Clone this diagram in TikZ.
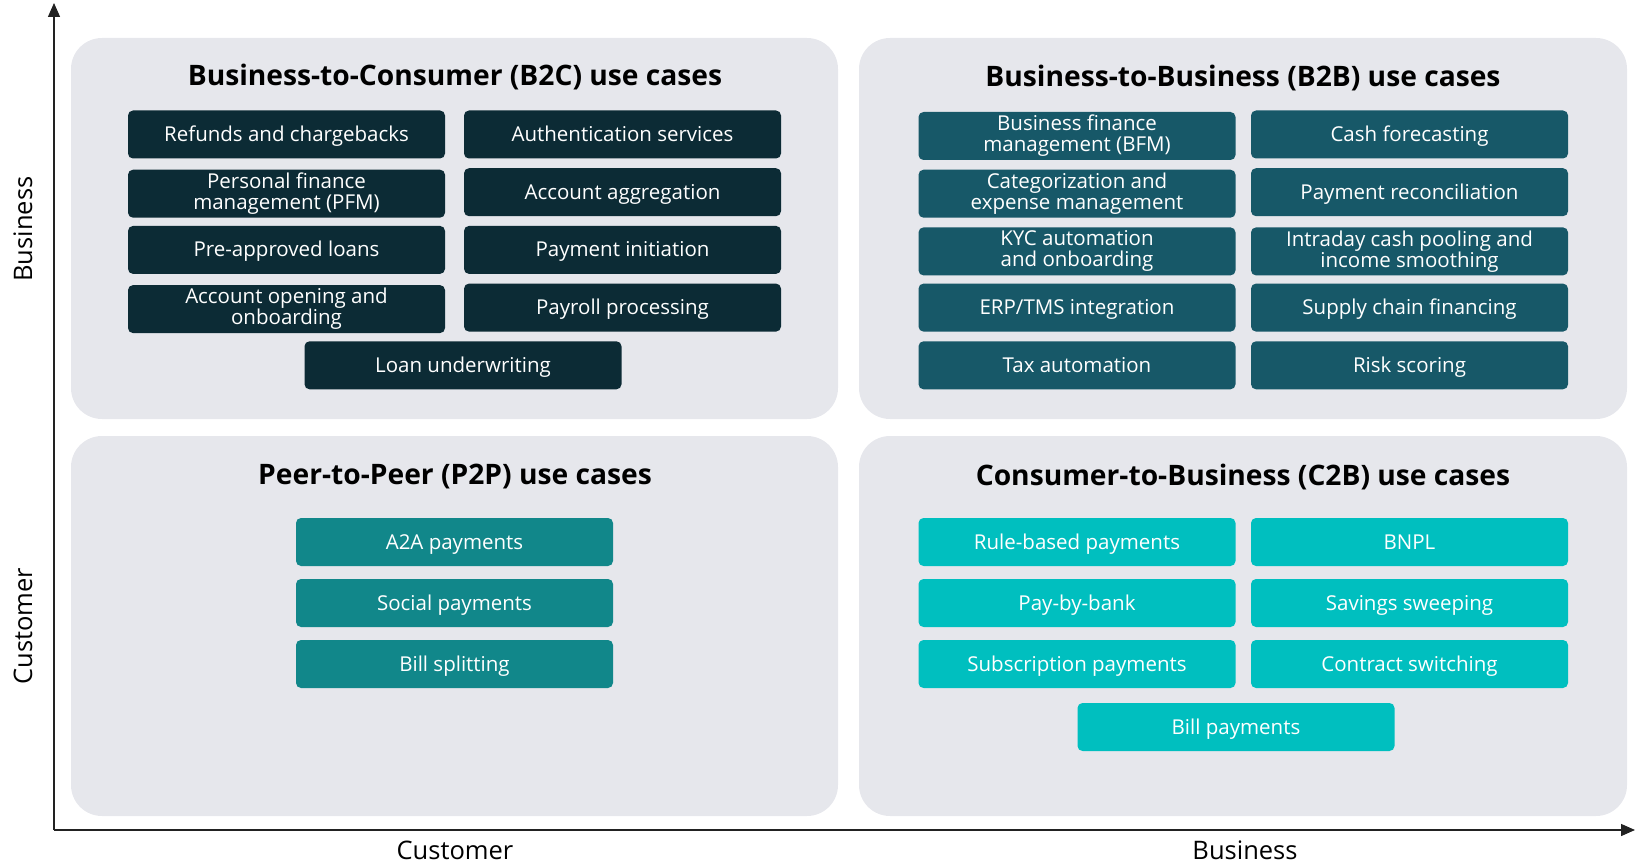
\documentclass[tikz,border=0pt]{standalone}
\usepackage{fontspec}
\setmainfont{Open Sans}
\usetikzlibrary{arrows.meta}
\definecolor{panelbg}{HTML}{E6E7EC}
\definecolor{btoc}{HTML}{0C2B35}
\definecolor{btob}{HTML}{175868}
\definecolor{ptop}{HTML}{11878A}
\definecolor{ctob}{HTML}{00BFBF}
\definecolor{axiscol}{HTML}{222222}
\tikzset{
  panel/.style={fill=panelbg, draw=none, rounded corners=31pt},
  itembase/.style={rounded corners=5pt, text=white, minimum width=317pt, minimum height=48pt,
    inner sep=0pt, align=center, font=\fontsize{20.5}{21}\selectfont},
  item2/.style={itembase, yshift=-1.5pt},
  item/.style={itembase, text height=17pt, text depth=3pt},
  ptitle/.style={font=\fontsize{28.2}{30}\selectfont\bfseries, text=black, inner sep=0pt},
  axlabel/.style={font=\fontsize{25.5}{27}\selectfont, text=black, inner sep=0pt},
  axisline/.style={draw=axiscol, line width=1.4pt, -{Triangle[length=14pt,width=12pt]}}
}
\begin{document}
\begin{tikzpicture}[x=1pt,y=-1pt]
\useasboundingbox (0,0) rectangle (1635,866);
% panels
\path[panel] (71,38) rectangle (838,419);
\path[panel] (859,38) rectangle (1627,419);
\path[panel] (71,436) rectangle (838,816);
\path[panel] (859,436) rectangle (1627,816);
% axes
\coordinate (org) at (54,830);
\coordinate (ytop) at (54,3);
\coordinate (xend) at (1635,830);
\draw[axisline] (org) -- (ytop);
\draw[axisline] (org) -- (xend);
\node[axlabel, rotate=90] (ybus) at (23,229) {Business};
\node[axlabel, rotate=90] (ycus) at (23,626) {Customer};
\node[axlabel, anchor=base, text depth=0pt] (xcus) at (455,859) {Customer};
\node[axlabel, anchor=base, text depth=0pt] (xbus) at (1245,859) {Business};
% titles
\node[ptitle] (tb2c) at (455,77) {Business-to-Consumer (B2C) use cases};
\node[ptitle] (tb2b) at (1243,78.5) {Business-to-Business (B2B) use cases};
\node[ptitle] (tp2p) at (455,477) {Peer-to-Peer (P2P) use cases};
\node[ptitle] (tc2b) at (1243,477) {Consumer-to-Business (C2B) use cases};
% B2C
\node[item, fill=btoc] (c1) at (286.5,134.5) {Refunds and chargebacks};
\node[item, fill=btoc] (c2) at (622.5,134.5) {Authentication services};
\node[item2, fill=btoc] (c3) at (286.5,192.2) {Personal finance\\management (PFM)};
\node[item, fill=btoc] (c4) at (622.5,192.2) {Account aggregation};
\node[item, fill=btoc] (c5) at (286.5,249.9) {Pre-approved loans};
\node[item, fill=btoc] (c6) at (622.5,249.9) {Payment initiation};
\node[item2, fill=btoc] (c7) at (286.5,307.6) {Account opening and\\onboarding};
\node[item, fill=btoc] (c8) at (622.5,307.6) {Payroll processing};
\node[item, fill=btoc] (c9) at (463,365.3) {Loan underwriting};
% B2B
\node[item2, fill=btob] (b1) at (1077,134.5) {Business finance\\management (BFM)};
\node[item, fill=btob] (b2) at (1409.5,134.5) {Cash forecasting};
\node[item2, fill=btob] (b3) at (1077,192.2) {Categorization and\\expense management};
\node[item, fill=btob] (b4) at (1409.5,192.2) {Payment reconciliation};
\node[item2, fill=btob] (b5) at (1077,249.9) {KYC automation\\and onboarding};
\node[item2, fill=btob] (b6) at (1409.5,249.9) {Intraday cash pooling and\\income smoothing};
\node[item, fill=btob] (b7) at (1077,307.6) {ERP/TMS integration};
\node[item, fill=btob] (b8) at (1409.5,307.6) {Supply chain financing};
\node[item, fill=btob] (b9) at (1077,365.3) {Tax automation};
\node[item, fill=btob] (b10) at (1409.5,365.3) {Risk scoring};
% P2P
\node[item, fill=ptop] (p1) at (454.5,542) {A2A payments};
\node[item, fill=ptop] (p2) at (454.5,603) {Social payments};
\node[item, fill=ptop] (p3) at (454.5,664) {Bill splitting};
% C2B
\node[item, fill=ctob] (d1) at (1077,542) {Rule-based payments};
\node[item, fill=ctob] (d2) at (1409.5,542) {BNPL};
\node[item, fill=ctob] (d3) at (1077,603) {Pay-by-bank};
\node[item, fill=ctob] (d4) at (1409.5,603) {Savings sweeping};
\node[item, fill=ctob] (d5) at (1077,664) {Subscription payments};
\node[item, fill=ctob] (d6) at (1409.5,664) {Contract switching};
\node[item, fill=ctob] (d7) at (1236,727) {Bill payments};
\end{tikzpicture}
\end{document}
